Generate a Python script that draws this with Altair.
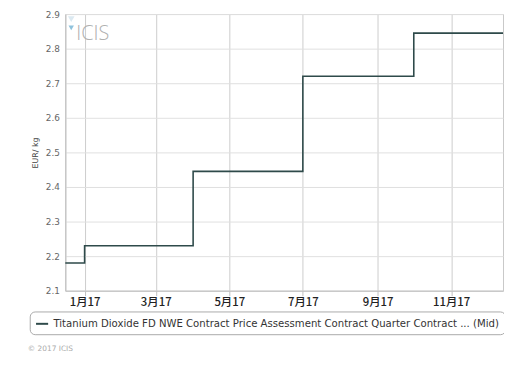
import altair as alt
import pandas as pd

dates = ["2016-12-16", "2017-01-01", "2017-04-01", "2017-07-01", "2017-10-01", "2017-12-14"]
prices = [2.18, 2.23, 2.445, 2.72, 2.845, 2.845]
series = "Titanium Dioxide FD NWE Contract Price Assessment Contract Quarter Contract ... (Mid)"
tick_dates = ["2017-01-01", "2017-03-01", "2017-05-01", "2017-07-01", "2017-09-01", "2017-11-01"]
y_ticks = [2.1, 2.2, 2.3, 2.4, 2.5, 2.6, 2.7, 2.8, 2.9]

df = pd.DataFrame({"date": dates, "price": prices, "series": [series] * len(dates)})

x_enc = alt.X(
    "date:T",
    scale=alt.Scale(type="utc", domain=[dates[0], dates[-1]]),
    axis=alt.Axis(
        values=[pd.Timestamp(d).value // 10**6 for d in tick_dates],
        labelExpr="(utcmonth(datum.value) + 1) + '月' + utcFormat(datum.value, '%y')",
        title=None,
        grid=True,
        gridColor="#cccccc",
        domainColor="#c0c0c0",
        tickColor="#c0c0c0",
        tickSize=5,
        labelFont="Noto Sans CJK SC",
        labelFontSize=11.5,
        labelFontWeight=500,
        labelColor="#222222",
        labelPadding=1,
    ),
)

y_enc = alt.Y(
    "price:Q",
    scale=alt.Scale(domain=[2.1, 2.9], nice=False, zero=False),
    axis=alt.Axis(
        values=y_ticks,
        format=".1f",
        title="EUR/ kg",
        titleFontSize=8,
        titleFontWeight="normal",
        titleColor="#444444",
        titlePadding=6,
        titleFont="DejaVu Sans",
        grid=True,
        gridColor="#e0e0e0",
        domain=True,
        domainColor="#c0c0c0",
        ticks=False,
        labelFontSize=9,
        labelColor="#666666",
        labelFont="DejaVu Sans",
        labelPadding=6,
    ),
)

line = alt.Chart(df).mark_line(interpolate="step-after", strokeWidth=1.6).encode(
    x=x_enc,
    y=y_enc,
    color=alt.Color(
        "series:N",
        scale=alt.Scale(range=["#2e4a4a"]),
        legend=alt.Legend(
            title=None,
            orient="none",
            legendX=-36,
            legendY=301,
            symbolType="stroke",
            symbolSize=150,
            symbolStrokeWidth=2,
            labelFont="DejaVu Sans",
            labelFontSize=10.25,
            labelColor="#333333",
            labelLimit=600,
            strokeColor="#aaaaaa",
            fillColor="white",
            cornerRadius=5,
            padding=5,
        ),
    ),
)

watermark = alt.Chart(pd.DataFrame({"t": ["ICIS"]})).mark_text(
    align="left", baseline="middle", fontSize=20, color="#b0b0b0", font="Open Sans", fontWeight=300
).encode(x=alt.value(11), y=alt.value(20), text="t:N")

logo_a = alt.Chart(pd.DataFrame({"t": ["a"]})).mark_point(
    shape="triangle-down", filled=True, size=45, color="#dbe9f1", opacity=1
).encode(x=alt.value(6), y=alt.value(5))

logo_b = alt.Chart(pd.DataFrame({"t": ["b"]})).mark_point(
    shape="triangle-down", filled=True, size=30, color="#8fc2dc", opacity=1
).encode(x=alt.value(6), y=alt.value(14))

copyright = alt.Chart(pd.DataFrame({"t": ["© 2017 ICIS"]})).mark_text(
    align="left", baseline="middle", fontSize=7.5, color="#aaaaaa", font="DejaVu Sans"
).encode(x=alt.value(-38), y=alt.value(339), text="t:N")

chart = alt.layer(line, watermark, logo_a, logo_b, copyright).properties(
    width=443,
    height=280,
    autosize=alt.AutoSizeParams(type="none"),
    padding={"left": 58, "top": 4, "right": 1, "bottom": 70},
).configure_view(stroke="#c8c8c8", strokeWidth=1)

chart.save("out.html", embed_options={"renderer": "svg", "actions": False})
